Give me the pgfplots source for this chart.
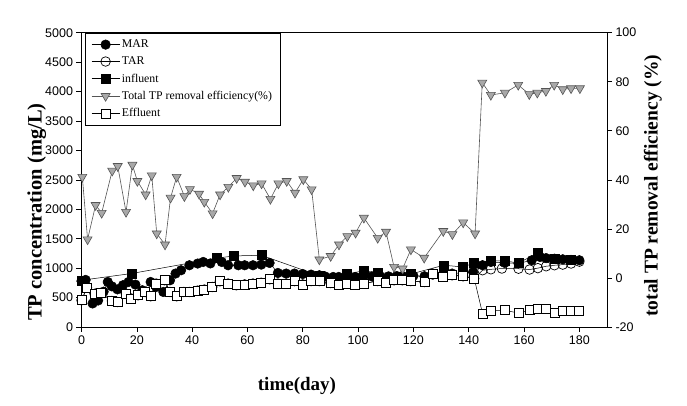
\documentclass[border=0pt]{standalone}
\usepackage{fontspec}
\setmainfont{Liberation Serif}
\newfontfamily\arialf{Liberation Sans}
\usepackage{pgfplots}
\pgfplotsset{compat=1.18}
\usetikzlibrary{calc}
\definecolor{trifill}{RGB}{168,168,168}
\definecolor{triedge}{RGB}{85,85,85}

\pgfplotstableread{
day mg
0 780
1.5 800
4 400
6 450
8 600
9.5 765
11 690
13 640
15 710
17 765
19.5 720
22 624
25 765
27 680
29.6 595
32 794
34 908
36 964
39 1049
42 1078
44 1105
46.6 1080
50.7 1105
53 1049
56.7 1049
59 1049
62 1049
65 1060
68 1088
71 918
74 908
77 908
80 900
83 890
86 879
88 860
91 850
93 850
96 860
99 850
102 860
105 860
108 860
111 860
114 865
116 867
120 870
124 862
127 890
131 935
134 908
138 920
141.6 935
145 1050
148 1105
153 1090
158 1080
162.8 1134
165.8 1190
168 1170
171 1160
174 1150
177 1140
180 1134
}\mar

\pgfplotstableread{
day mg
0 454
2 670
5 568
7 578
11 442
13 425
16 568
18 483
20.5 539
23 595
25 522
27 738
30 794
32 595
34.4 522
37 595
39 595
42 618
44.4 636
47.3 680
50 777
53 738
56 709
59 724
62 738
65 752
68 811
71 738
74 738
77 780
80 724
83 780
86 780
90 748
93 721
96 738
99 724
102 738
107 782
110 752
113 794
116 794
119 780
124 765
127 908
130.5 856
134 879
138 862
142 823
145 964
148 980
152 993
158 990
162 976
165 1000
168 1032
171 1049
174 1060
177 1078
180 1110
}\tar

\pgfplotstableread{
day mg
0 794
18 908
49 1170
55 1207
65 1219
86 870
96 900
102 955
107 920
119 900
131 1049
138 1020
142 1088
148 1122
153 1122
158 1088
165 1258
171 1163
177 1150
}\inf

\pgfplotstableread{
day mg
0 454
2 670
5 568
7 578
11 442
13 425
16 568
18 483
20.5 539
23 595
25 522
27 738
30 794
32 595
34.4 522
37 595
39 595
42 618
44.4 636
47.3 680
50 777
53 738
56 709
59 724
62 738
65 752
68 811
71 738
74 738
77 780
80 724
83 780
86 780
90 748
93 721
96 738
99 724
102 738
107 782
110 752
113 794
116 794
119 780
124 765
127 908
130.5 856
134 879
138 862
142 823
145 228
148 272
153 284
158 238
162 284
165 313
168 300
171 245
174 267
177 267
180 267
}\eff

\pgfplotstableread{
day pct
0.3 41.2
2.2 15.7
5.1 29.7
7.3 26.5
11.1 43.7
13.1 45.6
16.1 26.9
18.4 46.1
20.2 39.5
23.2 34.0
25.4 41.8
27.2 18.1
30.2 13.6
32.2 32.7
34.4 41.2
37.2 33.3
39.2 36.2
42.5 34.3
44.4 31.0
47.4 26.3
50.1 34.0
53.1 37.1
56.1 40.7
59.1 39.2
62.1 37.7
65.1 38.5
68.3 32.2
71.2 38.5
74.2 39.5
77.2 34.7
80.2 40.2
83.2 36.1
86.0 7.5
90.1 8.9
93.1 13.6
96.1 17.0
99.1 18.4
102.1 24.5
107.1 16.3
110.1 18.8
113.0 4.5
116.1 3.8
119.1 11.6
123.9 8.2
130.8 19.1
134.1 17.8
138.0 22.6
142.3 18.1
144.9 79.6
148.0 74.6
153.1 75.5
157.9 78.7
161.9 74.9
164.8 75.5
167.9 76.2
170.9 78.7
174.0 76.9
177.0 77.3
180.2 77.3
}\pct

\tikzset{
 marstyle/.style={black, line width=0.5pt, mark=*, mark size=4.8pt, mark options={solid, fill=black, draw=black, line width=0.5pt}},
 tarstyle/.style={black, line width=0.5pt, mark=o, mark size=4.8pt, mark options={solid, fill=white, draw=black, line width=0.7pt}},
 infstyle/.style={black, line width=0.5pt, mark=square*, mark size=4.5pt, mark options={solid, fill=black, draw=black}},
 pctstyle/.style={triedge, line width=0.6pt, mark=triangle*, mark size=5.2pt, mark options={solid, rotate=180, fill=trifill, draw=triedge, line width=0.6pt}},
 effstyle/.style={black, line width=0.5pt, mark=square*, mark size=4.5pt, mark options={solid, fill=white, draw=black, line width=0.7pt}},
}

\begin{document}
\begin{tikzpicture}
\begin{axis}[
 name=ax1, scale only axis, width=525.5pt, height=294.3pt,
 xmin=0, xmax=190, ymin=0, ymax=5000,
 xtick={0,20,...,180}, ytick={0,500,...,5000},
 xtick pos=bottom, ytick pos=left, tick align=outside,
 major tick length=5pt,
 axis line style={line width=0.6pt},
 tick style={line width=0.6pt, black},
 /pgf/number format/assume math mode=true,
 /pgf/number format/1000 sep={},
 tick label style={font=\arialf\fontsize{12.5}{13}\selectfont},
 xlabel={time(day)}, ylabel={TP concentration (mg/L)},
 xlabel style={font=\fontsize{19}{20}\selectfont\bfseries, at={(axis description cs:0.41,-0.2)}, anchor=center},
 ylabel style={font=\fontsize{20.5}{22}\selectfont\bfseries, at={(axis description cs:-0.085,0.39)}, anchor=center},
 clip=false,
]
\addplot[marstyle] table[x=day,y=mg]{\mar};
\addplot[tarstyle] table[x=day,y=mg]{\tar};
\addplot[infstyle] table[x=day,y=mg]{\inf};
\addplot[effstyle] table[x=day,y=mg]{\eff};
\end{axis}
\begin{axis}[
 name=ax2, scale only axis, width=525.5pt, height=294.3pt,
 xmin=0, xmax=190, ymin=-20, ymax=100,
 axis x line=none, axis y line*=right,
 ytick={-20,0,...,100}, tick align=outside, major tick length=5pt,
 axis line style={line width=0.6pt},
 tick style={line width=0.6pt, black},
 /pgf/number format/assume math mode=true,
 tick label style={font=\arialf\fontsize{12.5}{13}\selectfont},
 ylabel={total TP removal efficiency (\%)},
 ylabel style={font=\fontsize{19.5}{21}\selectfont\bfseries, at={(axis description cs:1.0875,0.48)}, anchor=center, rotate=0},
 legend style={at={(axis description cs:0.0067,1)}, anchor=north west, draw=black, line width=0.6pt,
   font=\fontsize{11.8}{13}\selectfont, row sep=3.6pt, inner xsep=6pt, inner ysep=5pt},
 legend cell align=left,
 legend image code/.code={\draw[mark repeat=2,mark phase=2] plot coordinates {(0pt,0pt) (14pt,0pt) (28pt,0pt)};},
 clip=false,
]
\addlegendimage{marstyle}
\addlegendentry{MAR}
\addlegendimage{tarstyle}
\addlegendentry{TAR}
\addlegendimage{infstyle}
\addlegendentry{influent}
\addplot[pctstyle] table[x=day,y=pct]{\pct};
\addlegendentry{Total TP removal efficiency(\%)}
\addlegendimage{effstyle}
\addlegendentry{Effluent}
\end{axis}
\pgfresetboundingbox
\path[use as bounding box] ($(ax1.south west)+(-81.5pt,-79pt)$) rectangle ($(ax1.north east)+(80pt,32.7pt)$);
\end{tikzpicture}
\end{document}
